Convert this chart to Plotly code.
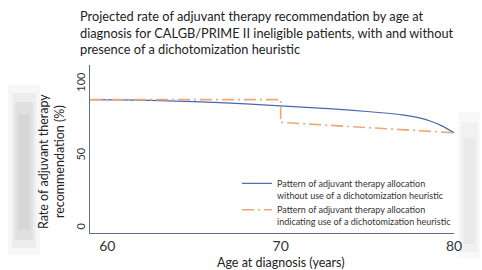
import plotly.graph_objects as go

# Data
age_blue = [59, 62, 65, 68, 70, 72, 74, 76, 77, 78, 78.7, 79.3, 80]
rate_blue = [89, 88.6, 87.6, 86.0, 84.6, 83.3, 81.7, 79.7, 78.4, 76.3, 73.8, 70.8, 66]
age_orange = [59, 70, 70, 80]
rate_orange = [89, 89, 73.2, 66]

name_blue = "Pattern of adjuvant therapy allocation<br>without use of a dichotomization heuristic"
name_orange = "Pattern of adjuvant therapy allocation<br>indicating use of a dichotomization heuristic"
x_ticks = [60, 70, 80]
y_ticks = [0, 50, 100]

W, H = 482, 270
L, R, T, B = 90, 28, 65, 37
FONT = "Lato"

fig = go.Figure()
fig.add_trace(go.Scatter(x=age_blue, y=rate_blue, mode="lines", name=name_blue,
                         line=dict(color="#4a67b0", width=1.2, shape="spline", smoothing=0.6)))
fig.add_trace(go.Scatter(x=age_orange, y=rate_orange, mode="lines", name=name_orange,
                         line=dict(color="#eda878", width=1.6, dash="12px,4px,2px,4px")))

def px_x(p):
    return (p - L) / (W - L - R)

def px_y(p):
    return 1 - (p - T) / (H - T - B)

fig.update_layout(
    width=W, height=H,
    margin=dict(l=L, r=R, t=T, b=B),
    paper_bgcolor="white", plot_bgcolor="white",
    font=dict(family=FONT, color="#2a2a2a"),
    xaxis=dict(range=[59, 80], tickvals=x_ticks, showgrid=False, zeroline=False,
               showline=True, linecolor="#5f6f84", linewidth=1.2, ticks="",
               tickfont=dict(size=14, family=FONT, color="#333")),
    yaxis=dict(range=[-3.5, 113], tickvals=y_ticks, showgrid=False, zeroline=False,
               showline=True, linecolor="#5f6f84", linewidth=1.2, ticks="",
               tickangle=-90, tickfont=dict(size=11, family=FONT, color="#333")),
    legend=dict(x=px_x(237), y=px_y(171), xanchor="left", yanchor="top",
                bgcolor="rgba(0,0,0,0)", font=dict(size=9, family=FONT, color="#333"),
                valign="top", tracegroupgap=4),
    showlegend=True,
)

fig.add_annotation(text="Projected rate of adjuvant therapy recommendation by age at<br>diagnosis for CALGB/PRIME II ineligible patients, with and without<br>presence of a dichotomization heuristic",
                   xref="paper", yref="paper", x=px_x(78), y=px_y(6), xanchor="left", yanchor="top",
                   align="left", showarrow=False, font=dict(size=12.8, family=FONT, color="#222"))
fig.add_annotation(text="Age at diagnosis (years)", xref="paper", yref="paper",
                   x=px_x(281), y=px_y(262), xanchor="center", yanchor="middle",
                   showarrow=False, font=dict(size=12.5, family=FONT, color="#222"))
fig.add_annotation(text="Rate of adjuvant therapy<br>recommendation (%)", xref="paper", yref="paper",
                   x=px_x(51), y=px_y(162), xanchor="center", yanchor="middle", textangle=-90,
                   showarrow=False, font=dict(size=12.5, family=FONT, color="#222"))

# soft grey slide artefacts at the edges
for x0, x1, y0, y1, a in [(8, 40, 85, 255, 0.03), (12, 36, 93, 248, 0.04), (15, 33, 102, 240, 0.05),
                          (18, 30, 115, 230, 0.04),
                          (458, 480, 112, 258, 0.025), (461, 478, 122, 252, 0.03), (464, 475, 138, 244, 0.03)]:
    fig.add_shape(type="rect", xref="paper", yref="paper", x0=px_x(x0), x1=px_x(x1),
                  y0=px_y(y1), y1=px_y(y0), line_width=0, fillcolor=f"rgba(0,0,0,{a})", layer="below")

fig.write_html("out.html", config={"displayModeBar": False},
               post_script="document.body.style.margin='0';document.body.style.overflow='hidden';")
